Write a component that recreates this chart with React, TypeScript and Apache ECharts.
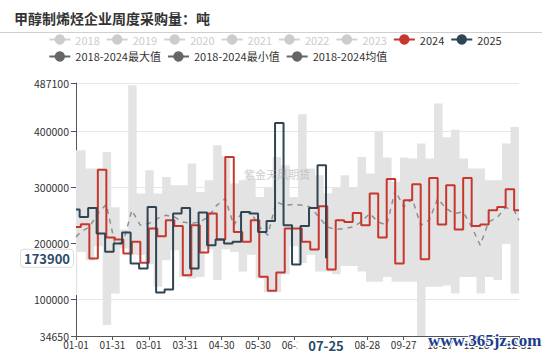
import React, { useEffect, useRef } from 'react';
import * as echarts from 'echarts';

const FONT = '"Noto Sans CJK SC", "Noto Sans", sans-serif';
const TITLE = '甲醇制烯烃企业周度采购量：吨';
const WATERMARK = '紫金天风期货';
const SITE_MARK = 'www.365jz.com';

const HIDDEN_YEARS = ['2018', '2019', '2020', '2021', '2022', '2023'];
const NAME_2024 = '2024';
const NAME_2025 = '2025';
const NAME_MAX = '2018-2024最大值';
const NAME_MIN = '2018-2024最小值';
const NAME_MEAN = '2018-2024均值';

// x categories: every day of 2024 as MM-DD
const dayLabels: string[] = [];
for (let d = 0; d < 366; d++) {
  const dt = new Date(Date.UTC(2024, 0, 1 + d));
  dayLabels.push(
    String(dt.getUTCMonth() + 1).padStart(2, '0') + '-' + String(dt.getUTCDate()).padStart(2, '0')
  );
}

// 2024 weekly purchases (weeks starting 01-05, every 7 days), plus value shown 01-01..01-04
const v2024First = 229750;
const v2024 = [
  234500, 173200, 332100, 210700, 207100, 182100, 203000, 165500, 226800, 213100,
  241700, 231500, 143500, 232700, 183900, 253600, 207100, 354700, 220800, 203000,
  241700, 140500, 115500, 148200, 226800, 226800, 203000, 189300, 266600, 153600,
  241700, 238700, 254800, 232700, 289300, 210700, 315400, 164300, 277400, 305900,
  172000, 317200, 233900, 304100, 225000, 317200, 231500, 233900, 259500, 265500,
  297000, 259500,
];

// 2025 weekly purchases (weeks starting 01-04, every 7 days), plus value shown 01-01..01-03
const v2025First = 260700;
const v2025 = [
  247600, 263700, 217900, 185100, 200000, 219600, 164300, 155400, 265500, 112500,
  117900, 253600, 263700, 155400, 255300, 197000, 207100, 200000, 203000, 256500,
  253600, 220800, 240500, 415400, 232700, 162500, 231500, 263700, 339800, 173900,
];

// 2018-2024 mean (weekly, from 01-05)
const meanFirst = 211900;
const vMean = [
  220800, 229800, 253600, 270200, 200000, 203000, 259500, 232700, 235700, 244600,
  250600, 247600, 238700, 235700, 238700, 247600, 268400, 280300, 232700, 256500,
  256500, 229800, 214900, 274400, 268400, 270200, 268400, 265500, 247600, 229800,
  225000, 226800, 229800, 238700, 253600, 238700, 232700, 295200, 265500, 280300,
  232700, 241700, 280300, 262500, 253600, 256500, 229800, 197000, 238700, 246400,
  264300, 259500,
];
const meanLast = 241700;

// 2018-2024 max / min (weekly, from 01-02)
const maxFirst = 366800;
const vMax = [
  366800, 334100, 334100, 363800, 265000, 225000, 482900, 289500, 331100, 289500,
  319100, 304300, 304300, 343100, 292300, 313200, 375700, 356000, 307300, 313200,
  316300, 283400, 300000, 354900, 340000, 283400, 431100, 334100, 322100, 290000,
  300000, 322100, 300000, 354900, 325300, 399500, 353800, 310200, 353800, 352000,
  378800, 352000, 450300, 390000, 403700, 352000, 334100, 334100, 313200, 313200,
  378800, 408500,
];
const minFirst = 107900;
const vMin = [
  185000, 170000, 195000, 54300, 110800, 191000, 180000, 179300, 163000, 122700,
  170300, 188000, 140000, 137700, 140000, 190000, 135000, 190000, 185000, 150000,
  180000, 138000, 113000, 113000, 145000, 195000, 165000, 180000, 150000, 150000,
  145000, 160000, 160000, 150000, 131600, 131600, 140000, 131600, 131600, 131600,
  34650, 122700, 122700, 125000, 110800, 140000, 140000, 110800, 140000, 135000,
  200000, 110800,
];

const Y_MIN = 34650;
const Y_MAX = 487100;
const POINTER_DAY = '07-25';
const POINTER_VALUE = 173900;

const LAST_DAY = 365;

function weeklyPoints(first: number, startDay: number, vals: number[], last?: number) {
  const pts: [number, number][] = [[0, first]];
  vals.forEach((v, i) => pts.push([startDay + 7 * i, v]));
  if (last !== undefined) pts.push([LAST_DAY, last]);
  return pts;
}

const labelInterval = (i: number) => (i % 30 === 0 && i < 360) || i === LAST_DAY;

export default function App() {
  const ref = useRef<HTMLDivElement>(null);
  useEffect(() => {
    if (!ref.current) return;
    const chart = echarts.init(ref.current, undefined, { renderer: 'svg' });

    const minPts = weeklyPoints(minFirst, 1, vMin, vMin[vMin.length - 1]);
    const maxPts = weeklyPoints(maxFirst, 1, vMax, vMax[vMax.length - 1]);
    const bandPts = maxPts.map((p, i) => [p[0], p[1] - minPts[i][1]]);

    const grayLegend = { color: '#666' };
    const option: any = {
      animation: false,
      backgroundColor: '#fff',
      textStyle: { fontFamily: FONT },
      title: {
        text: TITLE,
        left: 14,
        top: 11,
        padding: 0,
        textStyle: { fontSize: 14, fontWeight: 'bold', color: '#333', fontFamily: FONT },
      },
      graphic: [
        {
          type: 'line',
          shape: { x1: 0, y1: 32.5, x2: 542, y2: 32.5 },
          style: { stroke: '#cfcfcf', lineWidth: 1 },
        },
        {
          type: 'text',
          left: 244,
          top: 168,
          z: 100,
          style: { text: WATERMARK, fill: 'rgba(160,160,160,0.55)', font: '11px ' + FONT },
        },
        {
          type: 'text',
          left: 427,
          top: 331,
          z: 100,
          style: {
            text: SITE_MARK,
            fill: '#1d3d8c',
            stroke: '#ffffff',
            lineWidth: 2,
            font: 'bold 17px "Liberation Serif", serif',
          },
        },
      ],
      legend: {
        top: 34,
        left: 'center',
        padding: 0,
        itemGap: 6,
        itemWidth: 21,
        itemHeight: 13,
        inactiveColor: '#ccc',
        textStyle: { fontSize: 11, color: '#333', fontFamily: FONT },
        selected: Object.fromEntries(HIDDEN_YEARS.map((y) => [y, false])),
        data: [
          ...HIDDEN_YEARS,
          NAME_2024,
          NAME_2025,
          { name: NAME_MAX, itemStyle: grayLegend, lineStyle: { color: '#666', width: 2, opacity: 1, type: 'solid' } },
          { name: NAME_MIN, itemStyle: grayLegend, lineStyle: { color: '#666', width: 2, opacity: 1, type: 'solid' } },
          { name: NAME_MEAN, itemStyle: grayLegend, lineStyle: { color: '#666', width: 2, opacity: 1, type: 'solid' } },
        ],
      },
      grid: { left: 76, right: 31, top: 83, bottom: 20 },
      xAxis: {
        type: 'category',
        data: dayLabels,
        boundaryGap: false,
        axisLine: { lineStyle: { color: '#555' } },
        axisTick: { interval: labelInterval, length: 4, lineStyle: { color: '#555' } },
        axisLabel: { interval: labelInterval, color: '#333', fontSize: 10, margin: 3, fontFamily: FONT },
        splitLine: { show: false },
        axisPointer: {
          show: true,
          status: 'show',
          value: dayLabels.indexOf(POINTER_DAY),
          type: 'line',
          lineStyle: { opacity: 0 },
          label: {
            show: true,
            backgroundColor: '#fff',
            color: '#2b4a6b',
            fontWeight: 'bold',
            fontSize: 13,
            fontFamily: FONT,
            padding: [1, 11],
            margin: 2,
            shadowBlur: 0,
          },
        },
      },
      yAxis: {
        type: 'value',
        min: Y_MIN,
        max: Y_MAX,
        axisLine: { show: true, lineStyle: { color: '#555' } },
        axisTick: { show: true, length: 5, lineStyle: { color: '#555' } },
        axisLabel: { color: '#333', fontSize: 10.5, margin: 7, fontFamily: FONT, formatter: (v: number) => String(v) },
        splitLine: { lineStyle: { color: '#e6e6e6' } },
        axisPointer: {
          show: true,
          status: 'show',
          value: POINTER_VALUE,
          type: 'line',
          lineStyle: { opacity: 0 },
          label: {
            show: true,
            backgroundColor: '#fff',
            color: '#2b4a6b',
            fontWeight: 'bold',
            fontSize: 13,
            fontFamily: FONT,
            padding: [2, 3],
            borderColor: '#ddd',
            borderWidth: 1,
            margin: 3,
            formatter: (p: any) => String(Math.round(p.value)),
          },
        },
      },
      series: [
        ...HIDDEN_YEARS.map((y) => ({
          name: y,
          type: 'line',
          symbol: 'circle',
          showSymbol: false,
          color: '#bbb',
          data: [] as any[],
        })),
        {
          name: NAME_MIN,
          type: 'line',
          stack: 'band',
          step: 'end',
          symbol: 'circle',
          showSymbol: false,
          color: '#666',
          lineStyle: { width: 0, opacity: 0 },
          areaStyle: { color: 'rgba(0,0,0,0)' },
          data: minPts,
          z: 1,
        },
        {
          name: NAME_MAX,
          type: 'line',
          stack: 'band',
          step: 'end',
          symbol: 'circle',
          showSymbol: false,
          color: '#666',
          lineStyle: { width: 0, opacity: 0 },
          areaStyle: { color: '#e3e3e3', opacity: 1 },
          data: bandPts,
          z: 1,
        },
        {
          name: NAME_MEAN,
          type: 'line',
          symbol: 'circle',
          showSymbol: false,
          color: '#666',
          lineStyle: { color: '#8f8f8f', width: 1.5, type: [5, 5] },
          data: weeklyPoints(meanFirst, 4, vMean, meanLast),
          z: 3,
        },
        {
          name: NAME_2024,
          type: 'line',
          step: 'end',
          symbol: 'circle',
          showSymbol: false,
          color: '#c8372d',
          lineStyle: { width: 2 },
          data: weeklyPoints(v2024First, 4, v2024, v2024[v2024.length - 1]),
          z: 4,
        },
        {
          name: NAME_2025,
          type: 'line',
          step: 'end',
          symbol: 'circle',
          showSymbol: false,
          color: '#2f4554',
          lineStyle: { width: 2 },
          data: weeklyPoints(v2025First, 3, v2025),
          z: 5,
        },
      ],
    };
    chart.setOption(option);
    return () => chart.dispose();
  }, []);
  return <div ref={ref} style={{ position: 'fixed', left: 0, top: 0, width: 550, height: 356 }} />;
}
